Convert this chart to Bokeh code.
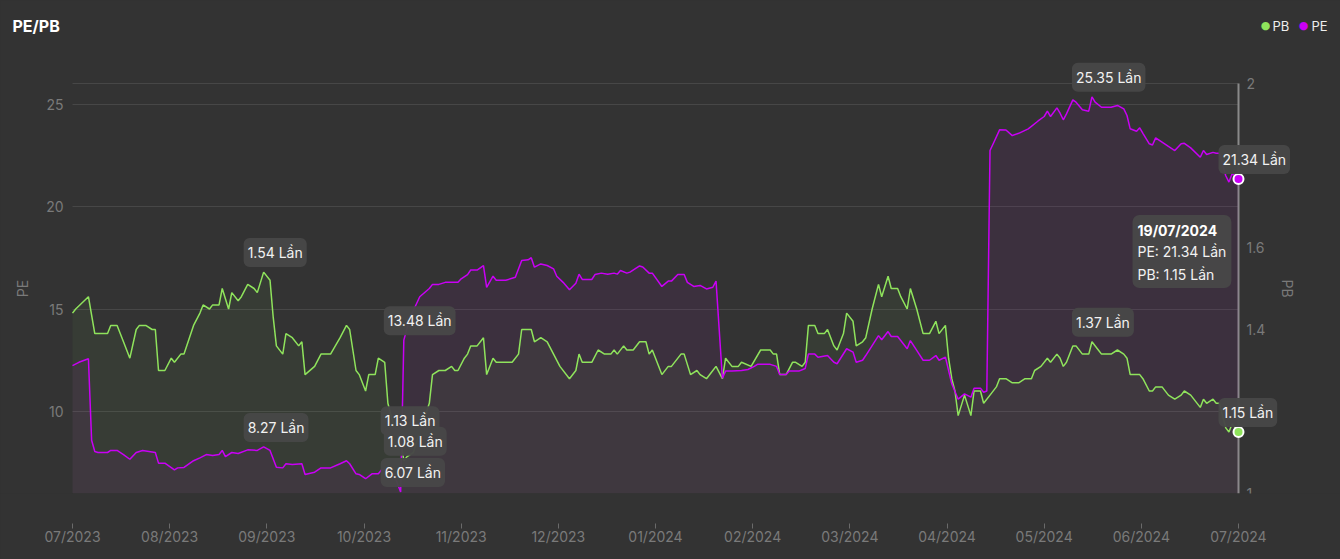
import numpy as np
import pandas as pd
from bokeh.plotting import figure
from bokeh.models import (Range1d, LinearAxis, FixedTicker, CustomJSTickFormatter,
                          DatetimeTickFormatter, Label, BoxAnnotation, Grid)
from bokeh.embed import file_html
from bokeh.resources import INLINE

# ---------------- data ----------------
START = "2023-07-19"          # first trading day shown
UNIT = "Lần"
TITLE = "PE/PB"
SERIES = ["PB", "PE"]

# days since START for PB samples
pb_day = [0, 1, 5, 7, 11, 12, 14, 16, 18, 20,
          21, 23, 25, 26, 27, 29, 31, 32, 34, 35,
          38, 40, 41, 43, 44, 46, 47, 49, 50, 52,
          53, 55, 57, 58, 60, 62, 63, 64, 66, 67,
          69, 71, 72, 73, 76, 78, 81, 84, 86, 87,
          89, 90, 92, 93, 95, 96, 98, 99, 101, 103,
          104, 105, 107, 109, 112, 113, 115, 117, 119, 120,
          121, 123, 124, 125, 127, 129, 130, 132, 133, 135,
          138, 140, 141, 144, 145, 147, 149, 151, 153, 156,
          158, 159, 160, 163, 165, 167, 169, 170, 171, 173,
          174, 176, 178, 180, 181, 182, 185, 187, 188, 191,
          192, 194, 196, 197, 199, 201, 202, 204, 205, 207,
          209, 210, 213, 216, 219, 220, 221, 222, 224, 226,
          227, 229, 230, 231, 233, 234, 236, 237, 239, 240,
          242, 243, 245, 246, 248, 249, 251, 253, 254, 256,
          257, 259, 260, 262, 263, 265, 267, 269, 271, 272,
          274, 275, 276, 277, 278, 280, 282, 283, 285, 286,
          288, 290, 291, 293, 295, 297, 299, 301, 302, 304,
          306, 307, 309, 310, 311, 312, 314, 315, 317, 319,
          320, 322, 323, 326, 328, 330, 331, 332, 334, 335,
          336, 338, 339, 340, 342, 344, 346, 348, 349, 351,
          354, 355, 356, 358, 359, 360, 362, 363, 364, 366]
pb = [1.44, 1.45, 1.48, 1.39, 1.39, 1.41, 1.41, 1.37, 1.33, 1.40,
      1.41, 1.41, 1.40, 1.40, 1.30, 1.30, 1.33, 1.32, 1.34, 1.34,
      1.41, 1.44, 1.46, 1.45, 1.46, 1.46, 1.50, 1.45, 1.49, 1.47,
      1.48, 1.51, 1.50, 1.49, 1.54, 1.52, 1.43, 1.36, 1.34, 1.39,
      1.38, 1.36, 1.37, 1.29, 1.31, 1.34, 1.34, 1.38, 1.41, 1.40,
      1.30, 1.29, 1.25, 1.29, 1.29, 1.33, 1.32, 1.22, 1.16, 1.13,
      1.08, 1.09, 1.10, 1.15, 1.22, 1.29, 1.30, 1.30, 1.31, 1.30,
      1.30, 1.33, 1.34, 1.36, 1.36, 1.38, 1.29, 1.33, 1.32, 1.32,
      1.32, 1.34, 1.40, 1.40, 1.37, 1.38, 1.37, 1.34, 1.31, 1.28,
      1.30, 1.34, 1.32, 1.32, 1.35, 1.34, 1.34, 1.35, 1.34, 1.36,
      1.35, 1.35, 1.37, 1.37, 1.34, 1.35, 1.29, 1.31, 1.31, 1.34,
      1.34, 1.29, 1.30, 1.29, 1.28, 1.30, 1.31, 1.28, 1.33, 1.31,
      1.31, 1.32, 1.31, 1.35, 1.35, 1.34, 1.34, 1.29, 1.29, 1.32,
      1.32, 1.31, 1.32, 1.41, 1.41, 1.39, 1.39, 1.40, 1.36, 1.35,
      1.39, 1.44, 1.42, 1.36, 1.37, 1.38, 1.45, 1.51, 1.48, 1.53,
      1.50, 1.50, 1.48, 1.45, 1.50, 1.45, 1.39, 1.39, 1.42, 1.39,
      1.41, 1.33, 1.28, 1.25, 1.19, 1.24, 1.19, 1.25, 1.25, 1.22,
      1.24, 1.26, 1.28, 1.28, 1.27, 1.27, 1.28, 1.28, 1.30, 1.31,
      1.33, 1.32, 1.34, 1.33, 1.31, 1.32, 1.36, 1.36, 1.34, 1.34,
      1.37, 1.35, 1.34, 1.34, 1.35, 1.34, 1.33, 1.29, 1.29, 1.29,
      1.28, 1.25, 1.25, 1.26, 1.26, 1.24, 1.23, 1.24, 1.25, 1.24,
      1.21, 1.23, 1.22, 1.23, 1.22, 1.22, 1.16, 1.15, 1.17, 1.15]

# days since START for PE samples
pe_day = [0, 2, 5, 6, 7, 8, 11, 12, 14, 16,
          18, 20, 22, 26, 27, 29, 32, 33, 35, 38,
          40, 42, 44, 46, 47, 48, 50, 52, 55, 58,
          60, 62, 64, 66, 67, 69, 72, 73, 76, 78,
          81, 84, 86, 87, 89, 90, 92, 94, 96, 97,
          99, 101, 103, 104, 106, 109, 112, 113, 115, 117,
          119, 121, 122, 124, 125, 127, 129, 130, 132, 133,
          136, 139, 141, 143, 144, 145, 147, 149, 151, 152,
          154, 156, 158, 159, 160, 163, 164, 166, 168, 170,
          171, 172, 174, 175, 178, 179, 181, 182, 185, 187,
          188, 190, 192, 193, 195, 197, 199, 201, 202, 204,
          205, 207, 210, 212, 214, 215, 219, 221, 222, 224,
          225, 228, 230, 231, 233, 234, 237, 239, 240, 243,
          245, 246, 248, 249, 253, 254, 256, 257, 259, 262,
          263, 265, 267, 269, 271, 272, 274, 276, 278, 280,
          282, 283, 285, 286, 287, 288, 289, 291, 293, 295,
          297, 300, 303, 305, 306, 307, 309, 310, 311, 312,
          314, 315, 317, 319, 320, 321, 323, 326, 328, 330,
          331, 332, 334, 335, 336, 338, 339, 340, 342, 344,
          346, 348, 349, 351, 354, 355, 356, 358, 359, 360,
          362, 363, 364, 366]
pe = [12.24, 12.40, 12.57, 8.60, 8.05, 8.00, 8.00, 8.10, 8.10, 7.90,
      7.67, 8.00, 8.10, 8.00, 7.48, 7.48, 7.15, 7.25, 7.27, 7.60,
      7.74, 7.90, 7.85, 7.90, 8.10, 7.80, 8.00, 7.95, 8.13, 8.10,
      8.27, 8.10, 7.28, 7.25, 7.45, 7.42, 7.45, 6.93, 7.04, 7.25,
      7.25, 7.45, 7.60, 7.45, 6.96, 6.93, 6.72, 6.96, 6.96, 7.15,
      7.15, 6.90, 6.07, 13.48, 14.60, 15.60, 16.00, 16.20, 16.20, 16.30,
      16.30, 16.30, 16.47, 16.68, 16.90, 16.90, 17.12, 16.06, 16.60, 16.40,
      16.40, 16.55, 17.37, 17.40, 17.50, 17.04, 17.20, 17.12, 16.96, 16.60,
      16.30, 15.94, 16.26, 16.70, 16.44, 16.44, 16.68, 16.75, 16.70, 16.75,
      16.70, 16.88, 16.75, 16.80, 17.10, 17.05, 16.75, 16.75, 16.10, 16.36,
      16.36, 16.68, 16.68, 16.30, 16.10, 16.15, 15.98, 16.06, 16.36, 11.62,
      11.97, 11.97, 12.00, 12.05, 12.20, 12.30, 12.30, 12.20, 11.80, 11.80,
      11.97, 11.97, 12.10, 12.80, 12.80, 12.65, 12.73, 12.40, 12.33, 13.06,
      12.90, 12.40, 12.50, 12.73, 13.70, 13.50, 13.90, 13.66, 13.66, 13.06,
      13.46, 12.98, 12.50, 12.50, 12.73, 12.50, 12.65, 11.35, 10.60, 10.86,
      10.70, 11.14, 11.14, 10.94, 11.00, 22.73, 23.06, 23.74, 23.73, 23.46,
      23.57, 23.79, 24.16, 24.39, 24.65, 24.39, 24.81, 24.55, 24.23, 24.52,
      25.20, 25.09, 24.72, 24.65, 25.35, 25.09, 24.84, 24.84, 24.93, 24.76,
      24.44, 23.79, 23.67, 23.84, 23.57, 23.06, 23.00, 23.35, 23.14, 22.93,
      22.73, 23.06, 23.08, 22.86, 22.40, 22.73, 22.54, 22.64, 22.60, 22.60,
      21.50, 21.19, 21.60, 21.34]

PE_RANGE = (6, 26)
PB_RANGE = (1, 2)
PE_TICKS = [6, 10, 15, 20, 25, 26]
PB_TICKS = [1, 1.4, 1.6, 2]

# ---------------- layout / styling ----------------
W, H = 1340, 559
AREA_L, AREA_R, AREA_T, AREA_B = 72, 1238, 83, 493   # visible plot area (px)
BG = "#333333"
PB_C = "#8fe35c"
PE_C = "#c900f5"
GRID = "#474747"
AX_TXT = "#7a7a7a"
TAG_BG = "#474747"
FONT = "Inter"

start = pd.Timestamp(START)
pb_x = start + pd.to_timedelta(pb_day, unit="D")
pe_x = start + pd.to_timedelta(pe_day, unit="D")
end = pe_x[-1]


def ms(ts):
    return ts.value // 10**6


s_ms, e_ms = ms(start), ms(end)
# the frame spans the whole canvas above the x axis; the y axes are pinned at the
# ends of the data so that annotations outside the plot area are not clipped
ms_per_px = (e_ms - s_ms) / (AREA_R - AREA_L)
pe_per_px = (PE_RANGE[1] - PE_RANGE[0]) / (AREA_B - AREA_T)
pb_per_px = (PB_RANGE[1] - PB_RANGE[0]) / (AREA_B - AREA_T)

p = figure(width=W, height=H, x_axis_type="datetime", title=None,
           output_backend="svg", toolbar_location=None,
           x_range=Range1d(s_ms - AREA_L * ms_per_px, e_ms + (W - AREA_R) * ms_per_px),
           y_range=Range1d(PE_RANGE[0], PE_RANGE[1] + AREA_T * pe_per_px),
           min_border_left=0, min_border_right=0,
           min_border_top=0, min_border_bottom=H - AREA_B,
           background_fill_color=BG, border_fill_color=BG,
           outline_line_color=None)
p.extra_y_ranges = {"pb": Range1d(PB_RANGE[0], PB_RANGE[1] + AREA_T * pb_per_px)}

# x axis
xa = p.xaxis[0]
xa.ticker = FixedTicker(ticks=[s_ms + i * (e_ms - s_ms) / 12 for i in range(13)])
fmt = "%m/%Y"
xa.formatter = DatetimeTickFormatter(microseconds=fmt, milliseconds=fmt, seconds=fmt,
                                     minsec=fmt, minutes=fmt, hourmin=fmt, hours=fmt,
                                     days=fmt, months=fmt, years=fmt)
xa.axis_line_color = None
xa.major_tick_in = -30
xa.major_tick_out = 35
xa.major_tick_line_color = "#6a6a6a"
xa.major_tick_line_width = 1
xa.minor_tick_line_color = None
xa.minor_tick_out = 0
xa.minor_tick_in = 0
xa.major_label_standoff = -1
xa.major_label_text_color = AX_TXT
xa.major_label_text_font = FONT
xa.major_label_text_font_size = "14px"

# left axis (PE), pinned at the first date
ya = p.yaxis[0]
ya.fixed_location = s_ms
ya.bounds = PE_RANGE
ya.ticker = FixedTicker(ticks=PE_TICKS)
ya.formatter = CustomJSTickFormatter(
    code="return (tick==%d||tick==%d) ? '' : tick.toString()" % (PE_RANGE[0], PE_RANGE[1]))
ya.axis_label = "PE"
ya.axis_line_color = None
ya.major_tick_line_color = None
ya.minor_tick_line_color = None
ya.major_tick_out = 0
ya.minor_tick_out = 0
ya.major_label_standoff = 9
ya.axis_label_standoff = 12
ya.major_label_text_color = AX_TXT
ya.major_label_text_font = FONT
ya.major_label_text_font_size = "14px"
ya.axis_label_text_color = AX_TXT
ya.axis_label_text_font = FONT
ya.axis_label_text_font_size = "14px"
ya.axis_label_text_font_style = "normal"

# right axis (PB), pinned at the last date
ra = LinearAxis(y_range_name="pb", ticker=FixedTicker(ticks=PB_TICKS),
                formatter=CustomJSTickFormatter(code="return String(Math.round(tick*10)/10)"),
                axis_label="PB", fixed_location=e_ms, bounds=PB_RANGE)
ra.axis_line_color = None
ra.major_tick_line_color = None
ra.minor_tick_line_color = None
ra.major_tick_out = 0
ra.minor_tick_out = 0
ra.major_label_standoff = 8
ra.axis_label_standoff = 11
ra.major_label_text_color = AX_TXT
ra.major_label_text_font = FONT
ra.major_label_text_font_size = "14px"
ra.axis_label_text_color = AX_TXT
ra.axis_label_text_font = FONT
ra.axis_label_text_font_size = "14px"
ra.axis_label_text_font_style = "normal"
p.add_layout(ra, "right")

p.xgrid.visible = False
p.ygrid.grid_line_color = GRID
p.ygrid.grid_line_width = 1
if "cross_bounds" in Grid.properties():
    p.ygrid.cross_bounds = (s_ms, e_ms)
else:
    p.add_layout(BoxAnnotation(right=s_ms, fill_color=BG, fill_alpha=1,
                               line_color=None, level="underlay"))
    p.add_layout(BoxAnnotation(left=e_ms, fill_color=BG, fill_alpha=1,
                               line_color=None, level="underlay"))

# crosshair at the last date
p.segment(x0=[end], y0=[PE_RANGE[0]], x1=[end], y1=[PE_RANGE[1]],
          line_color="#8a8a8a", line_width=2)

# areas + lines
p.varea(x=pb_x, y1=PB_RANGE[0], y2=pb, y_range_name="pb",
        fill_color=PB_C, fill_alpha=0.05)
p.varea(x=pe_x, y1=PE_RANGE[0], y2=pe, fill_color=PE_C, fill_alpha=0.06)
p.line(pb_x, pb, y_range_name="pb", line_color=PB_C, line_width=1.5)
p.line(pe_x, pe, line_color=PE_C, line_width=1.5)

# end markers
p.scatter([end], [pb[-1]], y_range_name="pb", size=10, fill_color=PB_C,
          line_color="white", line_width=2)
p.scatter([end], [pe[-1]], size=10, fill_color=PE_C,
          line_color="white", line_width=2)


def tag(day_ts, v, rng):
    kw = dict(x=ms(day_ts), y=v, x_units="data", y_units="data",
              text="%.2f %s" % (v, UNIT), x_offset=-20, y_offset=5,
              text_align="left", text_baseline="bottom",
              text_color="#f2f2f2", text_font=FONT, text_font_size="14px",
              background_fill_color=TAG_BG, background_fill_alpha=0.97,
              padding=(4, 6), border_radius=6)
    if rng != "default":
        kw["y_range_name"] = rng
    p.add_layout(Label(**kw))


pb_map = dict(zip(pb_day, pb))
pe_map = dict(zip(pe_day, pe))
i_pbmax, i_pemax = int(np.argmax(pb)), int(np.argmax(pe))
i_pemin, i_pbmin = int(np.argmin(pe)), int(np.argmin(pb))

d = pb_day[i_pbmax]
tag(start + pd.Timedelta(days=d), pb_map[d], "pb")
tag(start + pd.Timedelta(days=d), pe_map[d], "default")
d = pe_day[i_pemax]
tag(start + pd.Timedelta(days=d), pe_map[d], "default")
tag(start + pd.Timedelta(days=d), pb_map[d], "pb")
d = pe_day[i_pemin]
tag(start + pd.Timedelta(days=d), pe_map[d], "default")
tag(start + pd.Timedelta(days=d), pb_map[d], "pb")
d = pb_day[i_pbmin]
tag(start + pd.Timedelta(days=d), pe_map[d], "default")
tag(start + pd.Timedelta(days=d), pb_map[d], "pb")
tag(end, pe[-1], "default")
tag(end, pb[-1], "pb")

# tooltip box for the last date
tip_body = "\nPE: %.2f %s\nPB: %.2f %s" % (pe[-1], UNIT, pb[-1], UNIT)
p.add_layout(Label(x=e_ms, y=pe[-1], x_offset=-106, y_offset=-36,
                   text=tip_body, text_align="left", text_baseline="top",
                   text_line_height=1.35, text_color="#f2f2f2",
                   text_font=FONT, text_font_size="14px",
                   background_fill_color=TAG_BG, background_fill_alpha=0.97,
                   padding=5, border_radius=7))
p.add_layout(Label(x=e_ms, y=pe[-1], x_offset=-101, y_offset=-43,
                   text=end.strftime("%d/%m/%Y"), text_align="left", text_baseline="top",
                   text_color="#ffffff", text_font=FONT, text_font_size="14px",
                   text_font_style="bold"))

# title + legend (screen units: frame spans the canvas width, y up from the x axis)
p.add_layout(Label(x=12, y=AREA_B - 25, x_units="screen", y_units="screen", text=TITLE,
                   text_font=FONT, text_font_size="16px", text_font_style="bold",
                   text_color="#ffffff", text_baseline="middle"))
leg = [(SERIES[0], PB_C, 1265, 1272), (SERIES[1], PE_C, 1303, 1311)]
for name, col, dx, tx in leg:
    p.add_layout(Label(x=dx, y=AREA_B - 25, x_units="screen", y_units="screen", text="●",
                       text_font="DejaVu Sans", text_font_size="11px",
                       text_color=col, text_align="center", text_baseline="middle"))
    p.add_layout(Label(x=tx, y=AREA_B - 25, x_units="screen", y_units="screen", text=name,
                       text_font=FONT, text_font_size="13px",
                       text_color="#eeeeee", text_align="left", text_baseline="middle"))

html = file_html(p, INLINE)
html = html.replace("<head>", "<head><style>body{background:#333333;}</style>", 1)
open("out.html", "w").write(html)
